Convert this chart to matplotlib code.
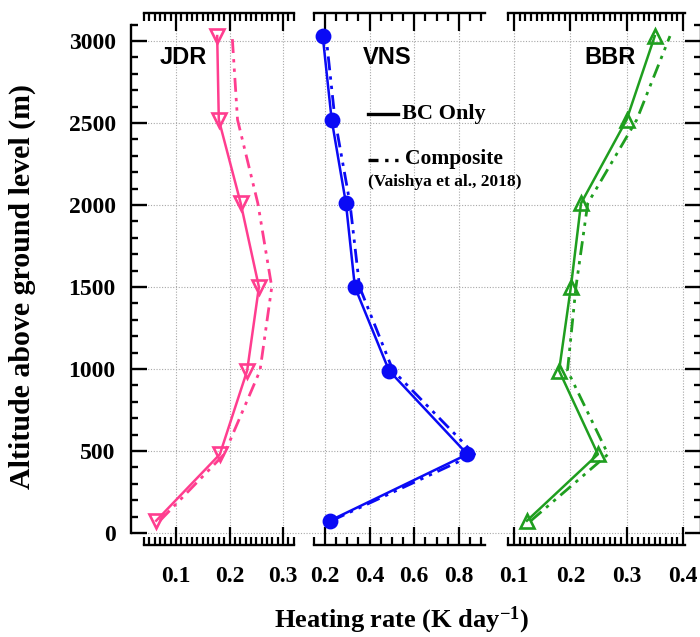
import matplotlib
matplotlib.use("Agg")
import matplotlib.pyplot as plt
from matplotlib.lines import Line2D
from matplotlib.ticker import MultipleLocator, FixedLocator

plt.rcParams['font.family'] = ['Liberation Serif', 'DejaVu Serif']
plt.rcParams['font.weight'] = 'bold'
plt.rcParams['mathtext.fontset'] = 'custom'
plt.rcParams['mathtext.rm'] = 'Liberation Serif:bold'
plt.rcParams['mathtext.it'] = 'Liberation Serif:bold'
plt.rcParams['mathtext.bf'] = 'Liberation Serif:bold'

# ---------------- data ----------------
altitude = [75, 480, 990, 1500, 2010, 2520, 3030]
stations = ["JDR", "VNS", "BBR"]
jdr_bc = [0.063, 0.182, 0.233, 0.255, 0.221, 0.180, 0.177]
jdr_comp = [0.070, 0.190, 0.257, 0.279, 0.253, 0.215, 0.205]
vns_bc = [0.222, 0.838, 0.487, 0.334, 0.294, 0.230, 0.190]
vns_comp = [0.230, 0.870, 0.505, 0.355, 0.312, 0.245, 0.205]
bbr_bc = [0.123, 0.249, 0.180, 0.201, 0.219, 0.300, 0.350]
bbr_comp = [0.130, 0.267, 0.195, 0.210, 0.231, 0.318, 0.377]
ytick_labels = ["0", "500", "1000", "1500", "2000", "2500", "3000"]
xticks_jdr = [0.1, 0.2, 0.3]
xticks_vns = [0.2, 0.4, 0.6, 0.8]
xticks_bbr = [0.1, 0.2, 0.3, 0.4]
legend_labels = ["BC Only", "Composite", "(Vaishya et al., 2018)"]

W, H = 700, 637
fig = plt.figure(figsize=(W / 100, H / 100), dpi=100)

def frac(x0, x1, ytop=13, ybot=545):
    return [x0 / W, 1 - ybot / H, (x1 - x0) / W, (ybot - ytop) / H]

YLIM = (-73.2, 3170.7)

# background axes: y axis + horizontal grid
ax0 = fig.add_axes(frac(131, 701))
ax0.set_xlim(0, 1)
ax0.set_ylim(*YLIM)
ax0.set_facecolor('none')
for s in ['top', 'bottom']:
    ax0.spines[s].set_visible(False)
for s in ['left', 'right']:
    ax0.spines[s].set_bounds(0, 3100)
    ax0.spines[s].set_linewidth(1.7)
ax0.set_xticks([])
ax0.yaxis.set_major_locator(FixedLocator([int(v) for v in ytick_labels]))
ax0.set_yticklabels(ytick_labels)
ax0.yaxis.set_minor_locator(FixedLocator(list(range(0, 3101, 100))))
ax0.tick_params(axis='y', which='both', direction='in', left=True, right=True,
                labelleft=True, labelright=False, width=1.7, labelsize=17, pad=11)
ax0.tick_params(axis='y', which='major', length=11.5)
ax0.tick_params(axis='y', which='minor', length=5)
ax0.grid(axis='y', which='major', linestyle=(0, (1, 1.5)), color='#a8a8a8', linewidth=0.8)

pink = '#ff3d8f'
blue = '#0a0af5'
green = '#1f9e1f'
dashdotdot = (0, (5, 2.2, 1.2, 2.2, 1.2, 2.2))

panels = [
    (143.9, 293.7, (0.04, 0.32), xticks_jdr, 0.01, jdr_bc, jdr_comp, pink, 'v', 'none'),
    (313.8, 484.6, (0.15, 0.915), xticks_vns, 0.05, vns_bc, vns_comp, blue, 'o', blue),
    (508.4, 684.6, (0.09, 0.403), xticks_bbr, 0.01, bbr_bc, bbr_comp, green, '^', 'none'),
]

axes = []
for (x0, x1, xlim, xt, minor, bc, comp, col, mk, mfc) in panels:
    ax = fig.add_axes(frac(x0, x1))
    ax.set_facecolor('none')
    ax.set_xlim(*xlim)
    ax.set_ylim(*YLIM)
    ax.spines['left'].set_visible(False)
    ax.spines['right'].set_visible(False)
    for s in ['top', 'bottom']:
        ax.spines[s].set_linewidth(1.7)
    ax.set_yticks([])
    ax.set_xticks(xt)
    ax.set_xticklabels([f"{v:.1f}" for v in xt])
    ax.xaxis.set_minor_locator(MultipleLocator(minor))
    ax.tick_params(axis='x', which='both', direction='in', top=True, bottom=True,
                   labeltop=False, width=1.6, labelsize=17, pad=15)
    ax.tick_params(axis='x', which='major', length=13)
    ax.tick_params(axis='x', which='minor', length=6)
    ax.grid(axis='x', which='major', linestyle=(0, (1, 1.5)), color='#a8a8a8', linewidth=0.8)
    ax.plot(comp, altitude, color=col, linestyle=dashdotdot, linewidth=2.0, clip_on=False)
    ax.plot(bc, altitude, color=col, linestyle='-', linewidth=1.8, marker=mk,
            markersize=9.5 if mk != 'o' else 9.5, markerfacecolor=mfc,
            markeredgecolor=col, markeredgewidth=1.9, clip_on=False)
    axes.append(ax)

# station labels
for name, xc in zip(stations, [183, 387, 610]):
    fig.text(xc / W, 1 - 58 / H, name, ha='center', va='center', fontsize=17,
             fontweight='bold', family=['Liberation Sans', 'DejaVu Sans'])

# legend
fig.add_artist(Line2D([368 / W, 398 / W], [1 - 114 / H] * 2, color='black', lw=2.4))
fig.add_artist(Line2D([368 / W, 398 / W], [1 - 160 / H] * 2, color='black', lw=2.4,
                      linestyle=(0, (3, 2, 1, 2, 1, 2))))
fig.text(402 / W, 1 - 114 / H, legend_labels[0], ha='left', va='center', fontsize=16, fontweight='bold')
fig.text(405 / W, 1 - 159 / H, legend_labels[1], ha='left', va='center', fontsize=15.5, fontweight='bold')
fig.text(368 / W, 1 - 182 / H, legend_labels[2], ha='left', va='center', fontsize=12.5, fontweight='bold')

fig.text(22 / W, 1 - 287 / H, "Altitude above ground level (m)", rotation=90,
         ha='center', va='center', fontsize=21.5, fontweight='bold')
fig.text(402 / W, 1 - 620 / H, "Heating rate (K day$^{-1}$)", ha='center', va='center',
         fontsize=19, fontweight='bold')

fig.savefig("out.png", dpi=100)
